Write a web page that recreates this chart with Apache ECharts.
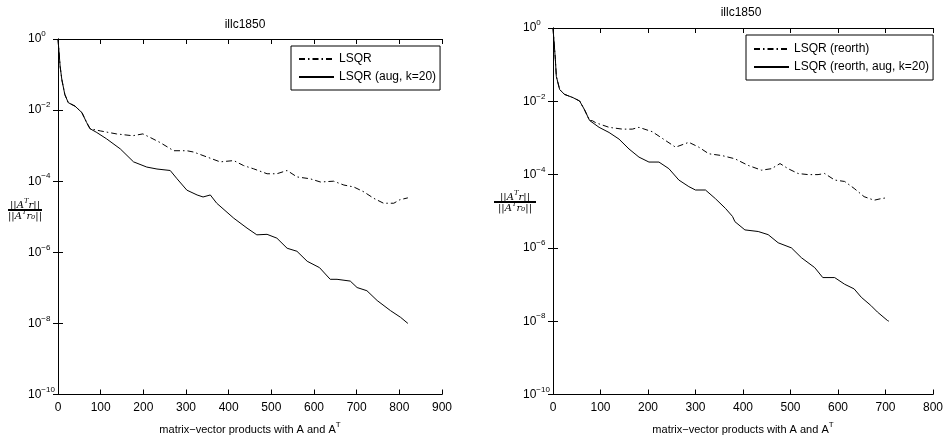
<!DOCTYPE html>
<html>
<head>
<meta charset="utf-8">
<script src="https://cdn.jsdelivr.net/npm/echarts@6/dist/echarts.min.js"></script>
<style>
html,body{margin:0;padding:0;background:#fff;}
#chart{width:946px;height:440px;}
</style>
</head>
<body>
<div id="chart"></div>
<script>
// ---------- data ----------
const titles = ['illc1850', 'illc1850'];
const xTickMaxLeft = 900;
const xTickMaxRight = 800;

// Left panel
const leftLsqrX = [0, 5, 9, 16, 24, 40, 56, 67, 75, 99, 137, 175, 199, 216, 239, 271, 302, 318, 349, 380, 412, 435, 458, 490, 513, 537, 560, 591, 615, 646, 670, 693, 717, 740, 763, 787, 801, 820];
const leftLsqrY = [1, 0.17, 0.072, 0.0275, 0.0162, 0.0129, 0.0085, 0.0045, 0.0030, 2.6e-3, 2.14e-3, 1.9e-3, 2.14e-3, 1.7e-3, 1.23e-3, 7.2e-4, 7.2e-4, 6.6e-4, 4.8e-4, 3.5e-4, 3.8e-4, 2.75e-4, 2.24e-4, 1.62e-4, 1.62e-4, 2.0e-4, 1.32e-4, 1.17e-4, 9.5e-5, 1.0e-4, 7.8e-5, 6.9e-5, 5.0e-5, 3.3e-5, 2.4e-5, 2.4e-5, 3.0e-5, 3.4e-5];
const leftAugX = [0, 5, 9, 16, 24, 40, 56, 67, 75, 91, 114, 146, 177, 208, 232, 263, 279, 302, 326, 340, 357, 372, 412, 443, 466, 490, 513, 537, 560, 584, 613, 638, 654, 685, 701, 724, 748, 779, 803, 820];
const leftAugY = [1, 0.17, 0.072, 0.0275, 0.0162, 0.0129, 0.0085, 0.0045, 0.0030, 2.34e-3, 1.55e-3, 8.1e-4, 3.5e-4, 2.5e-4, 2.2e-4, 2.0e-4, 1.17e-4, 5.6e-5, 4.1e-5, 3.6e-5, 4.1e-5, 2.4e-5, 9.1e-6, 4.8e-6, 3.1e-6, 3.2e-6, 2.5e-6, 1.3e-6, 1.07e-6, 5.6e-7, 3.7e-7, 1.74e-7, 1.74e-7, 1.55e-7, 1.02e-7, 8.3e-8, 4.4e-8, 2.3e-8, 1.48e-8, 1.0e-8];

// Right panel
const rightReorthX = [0, 5, 7, 14, 24, 42, 56, 66, 77, 83, 90, 118, 146, 167, 181, 209, 237, 258, 286, 307, 328, 356, 383, 411, 439, 460, 478, 495, 516, 537, 558, 572, 593, 614, 634, 655, 676, 690, 704];
const rightReorthY = [1, 0.138, 0.048, 0.021, 0.0155, 0.0126, 0.0102, 0.006, 0.0030, 2.95e-3, 2.6e-3, 1.95e-3, 1.74e-3, 1.74e-3, 1.95e-3, 1.48e-3, 8.5e-4, 5.6e-4, 7.6e-4, 5.6e-4, 3.7e-4, 3.3e-4, 2.7e-4, 1.78e-4, 1.32e-4, 1.45e-4, 2.0e-4, 1.45e-4, 1.07e-4, 1.0e-4, 1.0e-4, 1.07e-4, 7.1e-5, 6.5e-5, 4.2e-5, 2.5e-5, 2.0e-5, 2.2e-5, 2.35e-5];
const rightAugX = [0, 5, 7, 14, 24, 42, 56, 66, 77, 97, 118, 139, 160, 181, 202, 223, 244, 265, 286, 300, 321, 342, 363, 378, 383, 404, 432, 453, 474, 502, 523, 551, 568, 593, 614, 634, 649, 669, 683, 704, 707];
const rightAugY = [1, 0.138, 0.048, 0.021, 0.0155, 0.0126, 0.0102, 0.006, 0.0030, 1.95e-3, 1.41e-3, 9.3e-4, 5.0e-4, 3.0e-4, 2.2e-4, 2.2e-4, 1.45e-4, 7.1e-5, 4.7e-5, 3.8e-5, 3.8e-5, 2.2e-5, 1.2e-5, 7.2e-6, 5.2e-6, 3.1e-6, 2.8e-6, 2.3e-6, 1.38e-6, 1.0e-6, 5.4e-7, 2.9e-7, 1.55e-7, 1.55e-7, 1.02e-7, 7.6e-8, 4.5e-8, 2.7e-8, 1.78e-8, 1.05e-8, 1.0e-8];

const seriesNames = ['LSQR', 'LSQR (aug, k=20)', 'LSQR (reorth)', 'LSQR (reorth, aug, k=20)'];

// ---------- helpers ----------
const zip = (xs, ys) => xs.map((x, i) => [x, ys[i]]);
const FONT = 'Liberation Sans';
const supRich = {
  b: {fontSize: 12, fontFamily: FONT, color: '#000', lineHeight: 18, verticalAlign: 'middle'},
  s: {fontSize: 8, fontFamily: FONT, color: '#000', lineHeight: 8, verticalAlign: 'top'}
};
function yLabel(v) {
  const e = Math.round(Math.log10(v));
  return '{b|10}{s|' + (e < 0 ? '\u2212' + (-e) : e) + '}';
}
function xAxes(grid, max) {
  const base = {
    type: 'value', gridIndex: grid, min: 0, max: max, interval: 100,
    splitLine: {show: false},
    axisLine: {lineStyle: {color: '#000', width: 1}},
    axisTick: {inside: true, length: 5, lineStyle: {color: '#000'}}
  };
  return [
    Object.assign({}, base, {
      position: 'bottom',
      axisLabel: {color: '#000', fontFamily: FONT, fontSize: 12, margin: 7},
      name: 'matrix\u2212vector products with A and A{s|T}',
      nameLocation: 'middle', nameGap: 26,
      nameTextStyle: {color: '#000', fontFamily: FONT, fontSize: 11,
        rich: {s: {fontSize: 8, fontFamily: FONT, color: '#000', verticalAlign: 'top', lineHeight: 18}}}
    }),
    Object.assign({}, base, {position: 'top', axisLabel: {show: false}})
  ];
}
function yAxes(grid) {
  const base = {
    type: 'log', logBase: 100, gridIndex: grid, min: 1e-10, max: 1, splitNumber: 5,
    splitLine: {show: false},
    axisLine: {show: true, lineStyle: {color: '#000', width: 1}},
    axisTick: {inside: true, length: 5, lineStyle: {color: '#000'}},
    minorTick: {show: false}
  };
  return [
    Object.assign({}, base, {
      position: 'left',
      axisLabel: {formatter: yLabel, margin: 30, align: 'left', rich: supRich}
    }),
    Object.assign({}, base, {position: 'right', axisLabel: {show: false}})
  ];
}
function lineSeries(name, xi, yi, data, dashed) {
  return {
    name: name, type: 'line', xAxisIndex: xi, yAxisIndex: yi,
    data: data, symbol: 'none', symbolSize: 0, animation: false,
    lineStyle: {color: '#000', width: 1, type: dashed ? [6, 3, 1.5, 3] : 'solid'},
    itemStyle: {color: '#000'}
  };
}
function fraction(cx, lineY, x0, x1) {
  const rich = {
    i: {fontFamily: 'DejaVu Serif', fontStyle: 'italic', fontSize: 10, color: '#666'},
    s: {fontFamily: 'DejaVu Serif', fontStyle: 'italic', fontSize: 7, color: '#666', verticalAlign: 'top', lineHeight: 14}
  };
  return [
    {type: 'text', x: cx, y: lineY - 5, style: {text: '{i|||A}{s|T}{i|r||}', rich: rich, align: 'center', verticalAlign: 'middle'}},
    {type: 'line', shape: {x1: x0, y1: lineY, x2: x1, y2: lineY}, style: {stroke: '#000', lineWidth: 2}},
    {type: 'text', x: cx, y: lineY + 6, style: {text: '{i|||A}{s|T}{i|r\u2080||}', rich: rich, align: 'center', verticalAlign: 'middle'}}
  ];
}

const chart = echarts.init(document.getElementById('chart'), null, {renderer: 'canvas'});
const legendBase = {
  orient: 'vertical', backgroundColor: '#fff', borderColor: '#000', borderWidth: 1,
  itemWidth: 35, itemHeight: 14, itemGap: 6, borderRadius: 0,
  itemStyle: {opacity: 0, borderWidth: 0},
  lineStyle: {opacity: 1},
  textStyle: {color: '#000', fontFamily: FONT, fontSize: 12}, selectedMode: false
};
chart.setOption({
  animation: false,
  grid: [
    {left: 58, right: 504, top: 39, bottom: 42},
    {left: 553, right: 11, top: 28, bottom: 42}
  ],
  xAxis: xAxes(0, xTickMaxLeft).concat(xAxes(1, xTickMaxRight)),
  yAxis: yAxes(0).concat(yAxes(1)),
  legend: [
    Object.assign({}, legendBase, {data: [seriesNames[0], seriesNames[1]], left: 291, top: 46, padding: [7, 4, 7, 7]}),
    Object.assign({}, legendBase, {data: [seriesNames[2], seriesNames[3]], left: 746, top: 35, padding: [8, 4, 7, 7]})
  ],
  series: [
    lineSeries(seriesNames[0], 0, 0, zip(leftLsqrX, leftLsqrY), true),
    lineSeries(seriesNames[1], 0, 0, zip(leftAugX, leftAugY), false),
    lineSeries(seriesNames[2], 2, 2, zip(rightReorthX, rightReorthY), true),
    lineSeries(seriesNames[3], 2, 2, zip(rightAugX, rightAugY), false)
  ],
  graphic: [
    {type: 'text', x: 245, y: 25, style: {text: titles[0], font: '12px "Liberation Sans"', fill: '#000', align: 'center', verticalAlign: 'middle'}},
    {type: 'text', x: 741, y: 13, style: {text: titles[1], font: '12px "Liberation Sans"', fill: '#000', align: 'center', verticalAlign: 'middle'}}
  ].concat(fraction(25, 210, 8, 42)).concat(fraction(515, 202, 494, 536))
});
</script>
</body>
</html>
